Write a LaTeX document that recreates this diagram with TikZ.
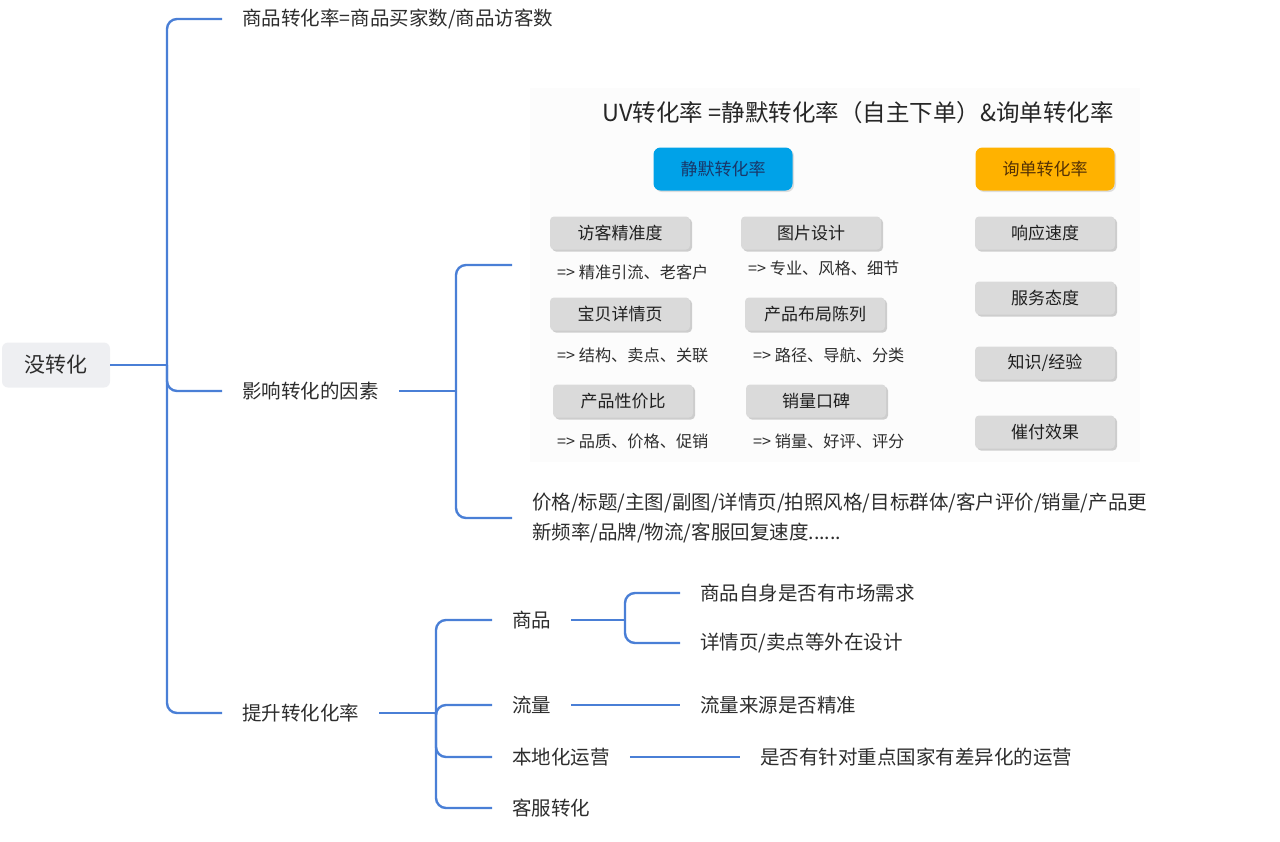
\documentclass[tikz,border=0pt]{standalone}
\usepackage{fontspec}
\setmainfont{Noto Sans CJK SC}
\usetikzlibrary{shadows}

\definecolor{linkblue}{RGB}{74,127,214}
\definecolor{textgray}{RGB}{45,45,45}
\definecolor{rootgray}{RGB}{238,239,242}
\definecolor{panelgray}{RGB}{252,252,252}
\definecolor{boxgray}{RGB}{218,218,218}
\definecolor{shadowgray}{RGB}{160,160,160}
\definecolor{silentblue}{RGB}{0,162,232}
\definecolor{silenttext}{RGB}{25,55,105}
\definecolor{inquiryorange}{RGB}{255,178,0}
\definecolor{inquirytext}{RGB}{85,50,5}

\begin{document}
\begin{tikzpicture}[x=1pt,y=-1pt]
	% styles
	\tikzstyle{link} += [draw=linkblue,line width=2.4pt,rounded corners=10pt]
	\tikzstyle{topic} += [anchor=west,inner xsep=20pt,inner ysep=2pt,text=textgray,font=\fontsize{19.5}{30}\selectfont]
	\tikzstyle{rootbox} += [fill=rootgray,rounded corners=6pt,minimum width=108pt,minimum height=45pt,text=textgray,font=\fontsize{21}{25}\selectfont]
	\tikzstyle{panel} += [fill=panelgray,minimum width=610pt,minimum height=374pt,inner sep=0pt]
	\tikzstyle{ratebox} += [rounded corners=7pt,minimum width=139pt,minimum height=43pt,font=\fontsize{17}{20}\selectfont,drop shadow={shadow xshift=1.5pt,shadow yshift=-1.5pt,fill=black!25}]
	\tikzstyle{factorbox} += [fill=boxgray,rounded corners=4pt,minimum width=140pt,minimum height=33pt,text=black!88,font=\fontsize{17}{20}\selectfont,drop shadow={shadow xshift=2pt,shadow yshift=-2pt,fill=shadowgray}]
	\tikzstyle{note} += [anchor=west,inner sep=0pt,text=black!82,font=\fontsize{16.2}{18}\selectfont]
	
	% bounding box
	\useasboundingbox (0,0) rectangle (1280,841);
	
	% root and first level
	\node[rootbox] (root) at (56,365) {没转化};
	\node[topic] (rate) at (222,19) {商品转化率=商品买家数/商品访客数};
	\node[topic] (factor) at (222,391) {影响转化的因素};
	\node[topic] (raise) at (222,713) {提升转化化率};
	\coordinate (trunk) at (167,365);
	\draw[link] (root.east) -- (trunk);
	\foreach \n in {rate,factor,raise}
	{
		\draw[link] (trunk) |- (\n.west);
	}
	
	% factors
	\coordinate (fjoin) at (456,391);
	\coordinate (panelin) at (512,265);
	\node[topic,align=left] (misc) at (512,518) {价格/标题/主图/副图/详情页/拍照风格/目标群体/客户评价/销量/产品更\\新频率/品牌/物流/客服回复速度......};
	\draw[link] (factor.east) -- (fjoin);
	\draw[link] (fjoin) |- (panelin);
	\draw[link] (fjoin) |- (misc.west);
	
	% uv panel
	\node[panel] (uvpanel) at (835,275) {};
	\node[text=black!85,font=\fontsize{23.5}{28}\selectfont] (uvtitle) at (858,113) {UV转化率 =静默转化率（自主下单）\&询单转化率};
	\node[ratebox,fill=silentblue,text=silenttext] (silent) at (723,169) {静默转化率};
	\node[ratebox,fill=inquiryorange,text=inquirytext] (inquiry) at (1045,169) {询单转化率};
	
	\node[factorbox] (visitor) at (620,233) {访客精准度};
	\node[factorbox] (picture) at (811,233) {图片设计};
	\node[factorbox] (detail) at (620,314) {宝贝详情页};
	\node[factorbox] (layout) at (815,314) {产品布局陈列};
	\node[factorbox] (value) at (623,401) {产品性价比};
	\node[factorbox] (sales) at (816,401) {销量口碑};
	
	\node[factorbox] (response) at (1045,233) {响应速度};
	\node[factorbox] (attitude) at (1045,298) {服务态度};
	\node[factorbox] (knowledge) at (1045,363) {知识/经验};
	\node[factorbox] (payment) at (1045,432) {催付效果};
	
	\node[note] (visitornote) at (557,272) {=> 精准引流、老客户};
	\node[note] (picturenote) at (748,268) {=> 专业、风格、细节};
	\node[note] (detailnote) at (557,355) {=> 结构、卖点、关联};
	\node[note] (layoutnote) at (753,355) {=> 路径、导航、分类};
	\node[note] (valuenote) at (557,441) {=> 品质、价格、促销};
	\node[note] (salesnote) at (753,441) {=> 销量、好评、评分};
	
	% raise conversion
	\coordinate (rjoin) at (436,713);
	\node[topic] (goods) at (492,620) {商品};
	\node[topic] (traffic) at (492,705) {流量};
	\node[topic] (local) at (492,757) {本地化运营};
	\node[topic] (service) at (492,808) {客服转化};
	\draw[link] (raise.east) -- (rjoin);
	\foreach \n in {goods,traffic,local,service}
	{
		\draw[link] (rjoin) |- (\n.west);
	}
	
	\coordinate (gjoin) at (625,620);
	\node[topic] (demand) at (680,593) {商品自身是否有市场需求};
	\node[topic] (design) at (680,643) {详情页/卖点等外在设计};
	\draw[link] (goods.east) -- (gjoin);
	\draw[link] (gjoin) |- (demand.west);
	\draw[link] (gjoin) |- (design.west);
	
	\node[topic] (source) at (680,705) {流量来源是否精准};
	\draw[link] (traffic.east) -- (source.west);
	\node[topic] (market) at (740,757) {是否有针对重点国家有差异化的运营};
	\draw[link] (local.east) -- (market.west);
\end{tikzpicture}
\end{document}
